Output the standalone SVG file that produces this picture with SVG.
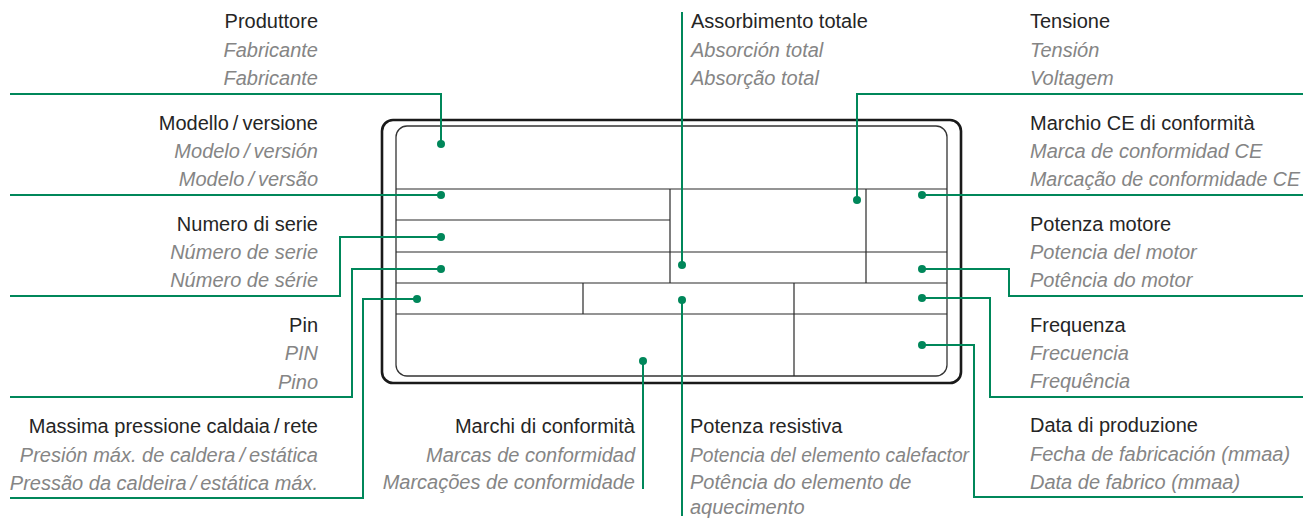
<svg xmlns="http://www.w3.org/2000/svg" width="1304" height="518" viewBox="0 0 1304 518">
<style>
text{font-family:"Liberation Sans",Arial,sans-serif;font-size:20px}
.t{fill:#252525}
.i{fill:#858585;font-style:italic}
.e{text-anchor:end}
.ln{fill:none;stroke:#00875a;stroke-width:2}
.dot{fill:#00875a}
.cell{fill:none;stroke:#2a2a2a;stroke-width:1.2}
</style>
<rect width="1304" height="518" fill="#fff"/>
<g id="plate">
<rect x="382" y="120" width="579" height="263" rx="11" fill="none" stroke="#1a1a1a" stroke-width="2.6"/>
<rect x="396" y="126" width="551" height="250" rx="11" fill="none" stroke="#333" stroke-width="1.3"/>
<path class="cell" d="M396 189H947M396 220H670M396 252H947M396 283H947M396 314H947M670 189V283M866 189V283M583 283V314M794 283V376"/>
</g>
<g id="connectors">
<path class="ln" d="M10 94H441V144"/>
<path class="ln" d="M10 195H441"/>
<path class="ln" d="M10 296H340V237H441"/>
<path class="ln" d="M441 269H352V397H10"/>
<path class="ln" d="M417 299H363V498H10"/>
<path class="ln" d="M682 12V265"/>
<path class="ln" d="M857 200V94H1303"/>
<path class="ln" d="M922 195H1303"/>
<path class="ln" d="M922 269H1009V296H1303"/>
<path class="ln" d="M922 298H990V397H1303"/>
<path class="ln" d="M922 345H974V497H1303"/>
<path class="ln" d="M643 361V489"/>
<path class="ln" d="M682 300V516"/>
<circle class="dot" cx="441" cy="144" r="4"/>
<circle class="dot" cx="441" cy="195" r="4"/>
<circle class="dot" cx="441" cy="237" r="4"/>
<circle class="dot" cx="441" cy="269" r="4"/>
<circle class="dot" cx="417" cy="299" r="4"/>
<circle class="dot" cx="682" cy="265" r="4"/>
<circle class="dot" cx="857" cy="200" r="4"/>
<circle class="dot" cx="922" cy="195" r="4"/>
<circle class="dot" cx="922" cy="269" r="4"/>
<circle class="dot" cx="922" cy="298" r="4"/>
<circle class="dot" cx="922" cy="345" r="4"/>
<circle class="dot" cx="682" cy="300" r="4"/>
<circle class="dot" cx="643" cy="361" r="4"/>
</g>
<g id="label-produttore">
<text class="t e" x="318" y="28">Produttore</text>
<text class="i e" x="318" y="57">Fabricante</text>
<text class="i e" x="318" y="85">Fabricante</text>
</g>
<g id="label-modello">
<text class="t e" x="318" y="130">Modello<tspan dx="4">/</tspan><tspan dx="4">versione</tspan></text>
<text class="i e" x="318" y="158">Modelo<tspan dx="4">/</tspan><tspan dx="4">versión</tspan></text>
<text class="i e" x="318" y="186">Modelo<tspan dx="4">/</tspan><tspan dx="4">versão</tspan></text>
</g>
<g id="label-numero">
<text class="t e" x="318" y="231">Numero di serie</text>
<text class="i e" x="318" y="259">Número de serie</text>
<text class="i e" x="318" y="287">Número de série</text>
</g>
<g id="label-pin">
<text class="t e" x="318" y="332">Pin</text>
<text class="i e" x="318" y="360">PIN</text>
<text class="i e" x="318" y="389">Pino</text>
</g>
<g id="label-pressione">
<text class="t e" x="318" y="433">Massima pressione caldaia<tspan dx="4">/</tspan><tspan dx="4">rete</tspan></text>
<text class="i e" x="318" y="462">Presión máx. de caldera<tspan dx="4">/</tspan><tspan dx="4">estática</tspan></text>
<text class="i e" x="318" y="490">Pressão da caldeira<tspan dx="4">/</tspan><tspan dx="4">estática máx.</tspan></text>
</g>
<g id="label-marchi">
<text class="t e" x="635" y="433">Marchi di conformità</text>
<text class="i e" x="635" y="462">Marcas de conformidad</text>
<text class="i e" x="635" y="489">Marcações de conformidade</text>
</g>
<g id="label-assorbimento">
<text class="t" x="691" y="28">Assorbimento totale</text>
<text class="i" x="691" y="57">Absorción total</text>
<text class="i" x="691" y="85">Absorção total</text>
</g>
<g id="label-resistiva">
<text class="t" x="690" y="433">Potenza resistiva</text>
<text class="i" x="690" y="462" textLength="279" lengthAdjust="spacingAndGlyphs">Potencia del elemento calefactor</text>
<text class="i" x="690" y="489">Potência do elemento de</text>
<text class="i" x="690" y="514">aquecimento</text>
</g>
<g id="label-tensione">
<text class="t" x="1030" y="28">Tensione</text>
<text class="i" x="1030" y="57">Tensión</text>
<text class="i" x="1030" y="85">Voltagem</text>
</g>
<g id="label-ce">
<text class="t" x="1030" y="130">Marchio CE di conformità</text>
<text class="i" x="1030" y="158">Marca de conformidad CE</text>
<text class="i" x="1030" y="186" textLength="270" lengthAdjust="spacingAndGlyphs">Marcação de conformidade CE</text>
</g>
<g id="label-motore">
<text class="t" x="1030" y="231">Potenza motore</text>
<text class="i" x="1030" y="259">Potencia del motor</text>
<text class="i" x="1030" y="287">Potência do motor</text>
</g>
<g id="label-frequenza">
<text class="t" x="1030" y="332">Frequenza</text>
<text class="i" x="1030" y="360">Frecuencia</text>
<text class="i" x="1030" y="388">Frequência</text>
</g>
<g id="label-data">
<text class="t" x="1030" y="432">Data di produzione</text>
<text class="i" x="1030" y="461">Fecha de fabricación (mmaa)</text>
<text class="i" x="1030" y="489">Data de fabrico (mmaa)</text>
</g>
</svg>
